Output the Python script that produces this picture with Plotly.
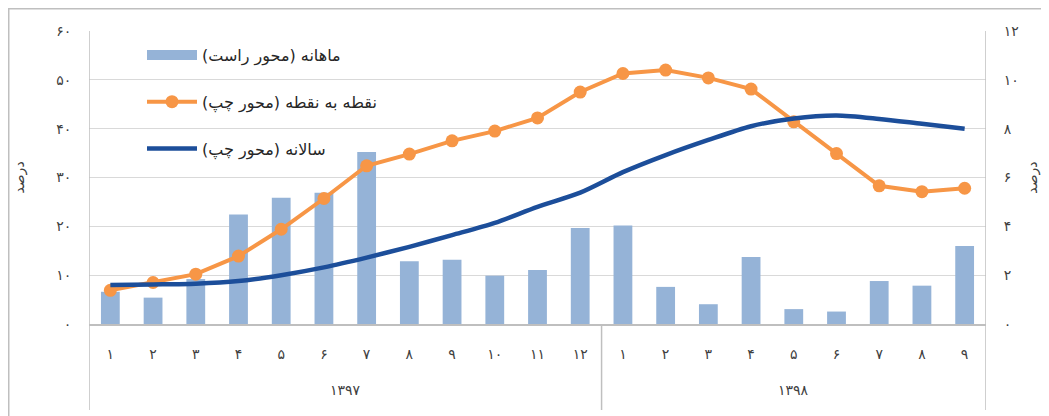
import plotly.graph_objects as go

years = ["۱۳۹۷"] * 12 + ["۱۳۹۸"] * 9
months = ["۱", "۲", "۳", "۴", "۵", "۶", "۷", "۸", "۹", "۱۰", "۱۱", "۱۲",
          "۱", "۲", "۳", "۴", "۵", "۶", "۷", "۸", "۹"]
year_labels = ["۱۳۹۷", "۱۳۹۸"]

monthly = [1.32, 1.08, 1.84, 4.48, 5.17, 5.38, 7.04, 2.57, 2.63, 1.98, 2.21, 3.93,
           4.03, 1.52, 0.81, 2.74, 0.61, 0.51, 1.76, 1.57, 3.19]
point_to_point = [6.9, 8.5, 10.2, 13.9, 19.4, 25.7, 32.4, 34.8, 37.5, 39.5, 42.2, 47.5,
                  51.3, 52.0, 50.4, 48.1, 41.4, 34.9, 28.3, 27.1, 27.8]
annual = [8.0, 8.1, 8.25, 8.8, 10.0, 11.6, 13.6, 15.8, 18.2, 20.7, 24.0, 26.9,
          31.1, 34.6, 37.7, 40.5, 42.1, 42.7, 42.0, 41.0, 40.0]

left_ticks = [0, 10, 20, 30, 40, 50, 60]
left_text = ["۰", "۱۰", "۲۰", "۳۰", "۴۰", "۵۰", "۶۰"]
right_ticks = [0, 2, 4, 6, 8, 10, 12]
right_text = ["۰", "۲", "۴", "۶", "۸", "۱۰", "۱۲"]

names = ["ماهانه (محور راست)", "نقطه به نقطه (محور چپ)", "سالانه (محور چپ)"]
axis_title = "درصد"

FONT = "DejaVu Sans"
BAR = "#95B3D7"
ORANGE = "#F79646"
BLUE = "#1C4E9A"
GRID = "#D9D9D9"
AXIS = "#BFBFBF"

cats = [y + "-" + m for y, m in zip(years, months)]

fig = go.Figure()
fig.add_trace(go.Bar(x=cats, y=monthly, name=names[0], marker_color=BAR,
                     marker_line_width=0, yaxis="y", showlegend=False))
# legend entry for bars (wide rectangle swatch)
fig.add_trace(go.Scatter(x=[None], y=[None], name=names[0], mode="lines",
                         line=dict(color=BAR, width=14), yaxis="y", legendgroup="a"))
fig.add_trace(go.Scatter(x=cats, y=point_to_point, name=names[1], mode="lines+markers",
                         line=dict(color=ORANGE, width=4),
                         marker=dict(size=13, color=ORANGE),
                         yaxis="y2", legendgroup="b"))
fig.add_trace(go.Scatter(x=cats, y=annual, name=names[2], mode="lines",
                         line=dict(color=BLUE, width=4.5, shape="spline", smoothing=0.8),
                         yaxis="y2", legendgroup="c"))

OFF = 8  # page body margin
W, H = 1049 - 2 * OFF, 416 - OFF
L = 89 - OFF
T = 31 - OFF
R = W - (986 - OFF)
B = H - (324 - OFF)
pw, ph = W - L - R, H - T - B

def px(xp):
    return (xp - OFF - L) / pw

def py(yp):
    return (H - B - (yp - OFF)) / ph

n1 = years.count(year_labels[0])
n2 = years.count(year_labels[1])
shapes = []
for xv, ytop in [(-0.5, py(31)), (n1 - 0.5, 0), (n1 + n2 - 0.5, py(31))]:
    shapes.append(dict(type="line", xref="x", yref="paper", x0=xv, x1=xv,
                       y0=py(410), y1=ytop, line=dict(color=AXIS, width=1.5)))
# outer chart frame (left and top edges visible)
shapes.append(dict(type="line", xref="paper", yref="paper",
                   x0=px(OFF + 0.75), x1=px(OFF + 0.75), y0=py(416), y1=py(OFF + 0.75),
                   line=dict(color=AXIS, width=1.5)))
shapes.append(dict(type="line", xref="paper", yref="paper",
                   x0=px(OFF), x1=px(1049), y0=py(OFF + 0.75), y1=py(OFF + 0.75),
                   line=dict(color=AXIS, width=1.5)))

annotations = [
    dict(x=(n1 - 1) / 2, y=py(390), xref="x", yref="paper", text=year_labels[0],
         showarrow=False, font=dict(size=14, color="#404040"), yanchor="middle"),
    dict(x=n1 + (n2 - 1) / 2, y=py(390), xref="x", yref="paper", text=year_labels[1],
         showarrow=False, font=dict(size=14, color="#404040"), yanchor="middle"),
]

fig.update_layout(
    width=W, height=H,
    margin=dict(l=L, r=R, t=T, b=B, autoexpand=False),
    paper_bgcolor="white", plot_bgcolor="white",
    font=dict(family=FONT, size=14, color="#404040"),
    bargap=0.56,
    showlegend=True,
    legend=dict(x=px(142), y=py(38), xanchor="left", yanchor="top",
                bgcolor="rgba(0,0,0,0)", font=dict(size=16, color="#262626"),
                traceorder="grouped", tracegroupgap=23, itemwidth=50),
    xaxis=dict(type="category", range=[-0.5, len(cats) - 0.5],
               tickvals=cats, ticktext=months, showgrid=False,
               showline=True, linecolor=AXIS, linewidth=1.5,
               ticks="outside", ticklen=16, tickcolor="rgba(0,0,0,0)",
               tickfont=dict(size=14, color="#404040")),
    yaxis=dict(side="right", range=[0, 12], tickvals=right_ticks, ticktext=right_text,
               showgrid=True, gridcolor=GRID, gridwidth=1.2,
               showline=False,
               ticks="outside", ticklen=14, tickcolor="rgba(0,0,0,0)",
               zeroline=False, tickfont=dict(size=14, color="#404040"),
               title=dict(text=axis_title, standoff=12, font=dict(size=14, color="#404040"))),
    yaxis2=dict(side="left", overlaying="y", range=[0, 60], tickvals=left_ticks,
                ticktext=left_text, showgrid=False, showline=False,
                ticks="outside", ticklen=14, tickcolor="rgba(0,0,0,0)",
                zeroline=False, tickfont=dict(size=14, color="#404040"),
                title=dict(text=axis_title, standoff=28, font=dict(size=14, color="#404040"))),
    shapes=shapes,
    annotations=annotations,
)

fig.write_html("out.html")
